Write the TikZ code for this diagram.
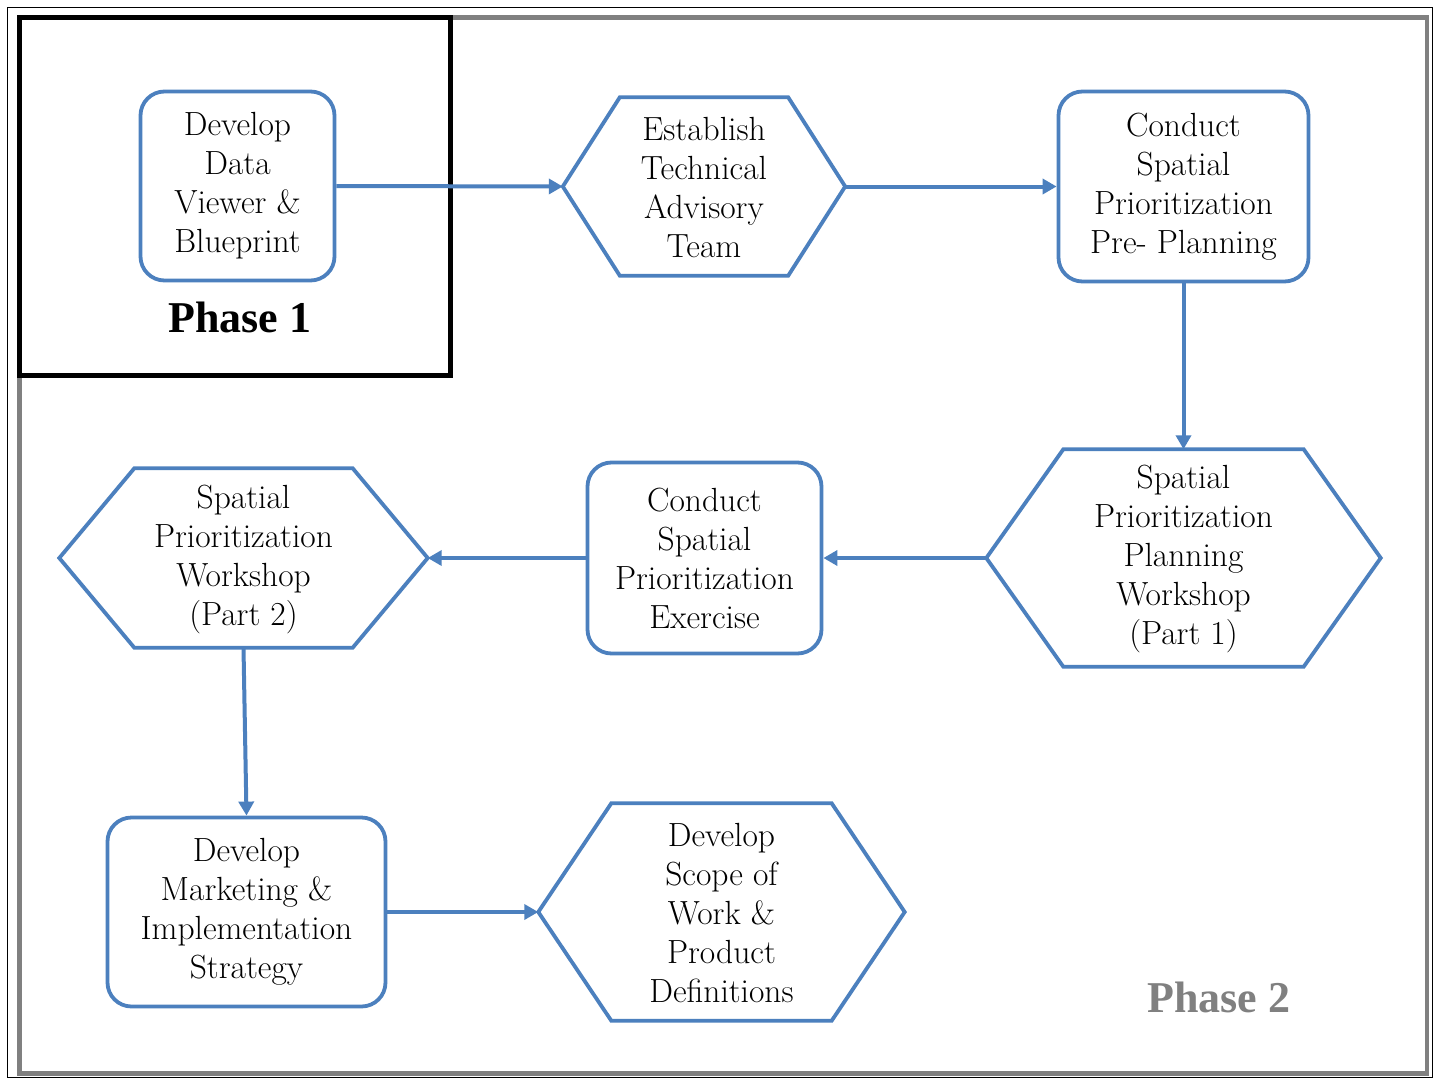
\documentclass[tikz,border=0pt]{standalone}
\usepackage{fontspec}
\newfontfamily\phasefont{Liberation Serif}
\usetikzlibrary{arrows.meta}
\definecolor{flowblue}{RGB}{76,128,190}
\definecolor{framegrey}{RGB}{128,128,128}
\newcommand\hexpath[2]{\draw[hexline] (#1.west) -- ([xshift=#2]#1.north west) -- ([xshift=-#2]#1.north east) -- (#1.east) -- ([xshift=-#2]#1.south east) -- ([xshift=#2]#1.south west) -- cycle;}
\tikzset{
  boxtext/.style={align=center, font=\fontsize{33.5}{39}\selectfont, inner sep=0pt},
  roundbox/.style={boxtext, draw=flowblue, line width=3.8pt, rounded corners=24pt, fill=white},
  hexnode/.style={boxtext, draw=none},
  hexline/.style={draw=flowblue, line width=3.8pt, line join=miter, fill=white},
  flow/.style={draw=flowblue, line width=4pt, -{Triangle[length=14pt,width=15pt]}},
  phaselabel/.style={font=\phasefont\fontsize{44}{48}\selectfont\bfseries, inner sep=0pt},
}
\begin{document}
\begin{tikzpicture}[x=1pt,y=-1pt]
\useasboundingbox (0,0) rectangle (1438,1084);
\fill[white] (0,0) rectangle (1438,1084);
% outer thin frame
\draw[black, line width=1.5pt] (7.5,7.5) rectangle (1432.5,1077.5);
% grey phase 2 frame
\draw[framegrey, line width=4.5pt] (19.5,17.5) rectangle (1427,1073.5);
% black phase 1 frame
\draw[black, line width=5pt] (19.5,17.5) rectangle (450.5,375.5);

% shapes (hexagon nodes drawn after their outline)
\node[hexnode, minimum width=282pt, minimum height=178pt] (n2) at (704,186.5) {};
\hexpath{n2}{57pt}
\node[hexnode] at ([yshift=-1pt]n2) {Establish\\Technical\\Advisory\\Team};

\node[hexnode, minimum width=394pt, minimum height=217pt] (n4) at (1183.5,558) {};
\hexpath{n4}{77pt}
\node[hexnode] at ([yshift=-1pt]n4) {Spatial\\Prioritization\\Planning\\Workshop\\(Part 1)};

\node[hexnode, minimum width=368pt, minimum height=179pt] (n6) at (243.5,558) {};
\hexpath{n6}{75pt}
\node[hexnode] at ([yshift=-1pt]n6) {Spatial\\Prioritization\\Workshop\\(Part 2)};

\node[hexnode, minimum width=366pt, minimum height=217pt] (n8) at (721.5,912) {};
\hexpath{n8}{73pt}
\node[hexnode] at ([yshift=-1pt]n8) {Develop\\Scope of\\Work \&\\Product\\Definitions};

\node[roundbox, minimum width=194pt, minimum height=189pt] (n1) at (237.5,186) {Develop\\Data\\Viewer \&\\Blueprint};
\node[roundbox, minimum width=250pt, minimum height=190pt] (n3) at (1183.5,186.5) {Conduct\\Spatial\\Prioritization\\Pre- Planning};
\node[roundbox, minimum width=234pt, minimum height=191pt] (n5) at (704.5,558) {Conduct\\Spatial\\Prioritization\\Exercise};
\node[roundbox, minimum width=278pt, minimum height=189pt] (n7) at (246.5,912) {Develop\\Marketing \&\\Implementation\\Strategy};

% labels
\node[phaselabel] (p1) at (240,317) {Phase 1};
\node[phaselabel, text=framegrey] (p2) at (1219,997) {Phase 2};

% connectors
\draw[flow] (n1.east) -- (n2.west);
\draw[flow] (n2.east) -- (n3.west);
\draw[flow] (n3.south) -- (n4.north);
\draw[flow] (n4.west) -- (n5.east);
\draw[flow] (n5.west) -- (n6.east);
\draw[flow] (n6.south) -- (n7.north);
\draw[flow] (n7.east) -- (n8.west);
\end{tikzpicture}
\end{document}
